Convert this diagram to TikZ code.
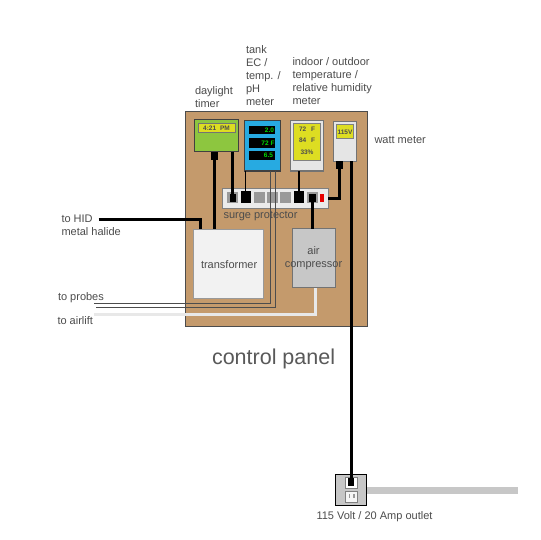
\documentclass[tikz,border=0pt]{standalone}
\usepackage{fontspec}
\setmainfont{Liberation Sans}
\newcommand{\bx}[6]{%
  \pgfmathsetmacro{\bw}{#5-#3}\pgfmathsetmacro{\bh}{#6-#4}%
  \node[#1,anchor=north west,minimum width=\bw pt,minimum height=\bh pt] (#2) at (#3,#4) {};}
\definecolor{panelc}{HTML}{C49A6C}
\definecolor{lcdc}{HTML}{DDDD22}
\definecolor{timerc}{HTML}{8DC63F}
\definecolor{tankc}{HTML}{27AAE1}
\tikzset{
  x=1pt,y=-1pt,
  every node/.style={inner sep=0pt,outer sep=0pt},
  lbl/.style={text=black!70,font=\fontsize{11}{12.9}\selectfont,align=left,anchor=north west},
  panel/.style={draw=black!70,line width=.8pt,fill=panelc},
  dev/.style={draw=black!55,line width=1pt,fill=black!10},
  lcd/.style={draw=black!50,line width=1pt,fill=lcdc},
  dark/.style={fill=black},
  sock/.style={fill=black!40},
  plug/.style={fill=black},
  lcdtxt/.style={font=\fontsize{6.5}{7}\bfseries\selectfont,text=black!70},
  grntxt/.style={font=\fontsize{6.5}{7}\bfseries\selectfont,text=green!85!black},
  wire/.style={draw=black,line width=3pt},
  thinw/.style={draw=black,line width=1.5pt},
  sense/.style={draw=black!70,line width=.9pt},
}
\begin{document}
\begin{tikzpicture}
\useasboundingbox (0,0) rectangle (540,540);
\fill[white] (0,0) rectangle (540,540);
% panel
\bx{panel}{board}{185}{111}{367}{326.5}
% gray bar
\bx{fill=black!22}{bar}{366}{487}{517.5}{493.7}
% devices
\bx{draw=black!75,line width=1pt,fill=timerc}{timer}{194}{120}{238.5}{151.7}
\bx{draw=black!55,line width=1pt,fill=lcdc}{timerlcd}{198}{124}{235}{132.7}
\node[lcdtxt] (timertxt) at (216.5,128.5) {4:21\hspace{2pt} PM};
\bx{draw=black!75,line width=1pt,fill=tankc}{tank}{244}{120.5}{280.5}{171}
\bx{dark}{d1}{249}{125.7}{275.3}{134.3}
\bx{dark}{d2}{249}{138.3}{275.3}{147.7}
\bx{dark}{d3}{249}{150.7}{275.3}{160}
\node[grntxt,anchor=east] (t1) at (274,130.2) {2.0};
\node[grntxt,anchor=east] (t2) at (274.5,143) {72 F};
\node[grntxt,anchor=east] (t3) at (273,155.5) {6.5};
\bx{dev}{indoor}{290.5}{120.5}{323.5}{171}
\bx{lcd}{indoorlcd}{293.5}{124}{320}{160.5}
\node[lcdtxt] (i1) at (307,129.5) {72\hspace{3pt} F};
\node[lcdtxt] (i2) at (307,140.5) {84\hspace{3pt} F};
\node[lcdtxt] (i3) at (307,152) {33\%};
\bx{dev}{watt}{333}{121.7}{356.5}{161.3}
\bx{lcd}{wattlcd}{336.5}{125}{353.5}{139}
\node[lcdtxt] (w1) at (345,132) {115V};
% surge protector
\bx{draw=black!50,line width=1pt,fill=black!8}{surge}{222}{188.5}{328}{208.5}
\bx{sock}{s1}{227.3}{192}{237.7}{203.3}
\bx{plug}{p1}{229.5}{194}{235.5}{201.5}
\bx{plug}{p2}{241}{190.7}{251}{202.7}
\bx{sock}{s3}{254}{192}{265}{203.3}
\bx{sock}{s4}{267}{192}{278}{203.3}
\bx{sock}{s5}{280}{192}{291}{203.3}
\bx{plug}{p6}{294}{190.7}{304}{202.7}
\bx{sock}{s7}{307}{192}{318}{203.3}
\bx{plug}{p7}{309}{194}{315.5}{201.5}
\bx{fill=red!90!black}{swred}{319.7}{193.7}{324}{202.3}
% transformer, compressor
\bx{draw=black!40,line width=1pt,fill=black!5}{transformer}{193.7}{229}{263.3}{298.7}
\bx{draw=black!55,line width=1pt,fill=black!22}{comp}{292}{228.7}{335.7}{287.7}
% outlet
\bx{draw=black,line width=1pt,fill=black!22}{outlet}{335.7}{474}{366.3}{505}
\bx{draw=black!50,line width=.6pt,fill=white}{sockA}{345.5}{477.3}{357.5}{488}
\bx{draw=black!50,line width=.6pt,fill=black!4}{sockB}{345.5}{491.7}{357.5}{502.7}
\bx{fill=black!40}{slotA}{348.5}{494}{349.7}{497.5}
\bx{fill=black!40}{slotB}{353.3}{494}{354.5}{497.5}
\bx{plug}{outplug}{348.3}{478}{354.3}{486}
% plugs on devices
\bx{plug}{timerplug}{211.3}{151.7}{217.7}{160}
\bx{plug}{wattplug}{336.3}{161.3}{342.7}{169}
% free ends
\coordinate (hid) at (98.5,219);
\coordinate (probeA) at (94,303.3);
\coordinate (probeB) at (96,307);
\coordinate (air) at (94,314);
\coordinate (xa) at (270.7,171);
\coordinate (xb) at (275.7,171);
\coordinate (wattin) at (351.3,161.3);
% connectors
\draw[wire] (timerplug.south) -- (timerplug.south |- transformer.north);
\draw[wire] (232.3,151.7) coordinate (tp2) -- (tp2 |- p1.north);
\draw[thinw] (245.5,171) coordinate (tk) -- (tk |- p2.north);
\draw[thinw] (299,171) coordinate (in) -- (in |- p6.north);
\draw[wire] (p7.south) -- (p7.south |- comp.north);
\draw[wire] (wattplug.south) |- (surge.east |- 0,198.7);
\draw[wire] (wattin) -- (351.3,485) coordinate (wattend);
\draw[wire] (hid) -| (200.7,229) coordinate (tr1);
\draw[sense] (xa) |- (probeA);
\draw[sense] (xb) |- (probeB);
\draw[draw=black!9,line width=3pt] (air) -| (315,287.7) coordinate (cb);
% labels
\node[lbl] (l1) at (195,87) {daylight\\timer};
\node[lbl] (l2) at (246,46) {tank\\EC /\\temp. /\\pH\\meter};
\node[lbl] (l3) at (292.5,58) {indoor / outdoor\\temperature /\\relative humidity\\meter};
\node[lbl] (l4) at (374.5,136) {watt meter};
\node[lbl] (l5) at (223.5,211) {surge protector};
\node[lbl] (l6) at (201,261) {transformer};
\node[lbl,align=center,anchor=north] (l7) at (313.5,247) {air\\compressor};
\node[lbl] (l8) at (61.5,215) {to HID\\metal halide};
\node[lbl] (l9) at (58,293) {to probes};
\node[lbl] (l10) at (57.5,317) {to airlift};
\node[text=black!65,font=\fontsize{21.5}{24}\selectfont,anchor=north west] (l11) at (212,349) {control panel};
\node[lbl] (l12) at (316.5,512) {115 Volt / 20 Amp outlet};
\end{tikzpicture}
\end{document}
